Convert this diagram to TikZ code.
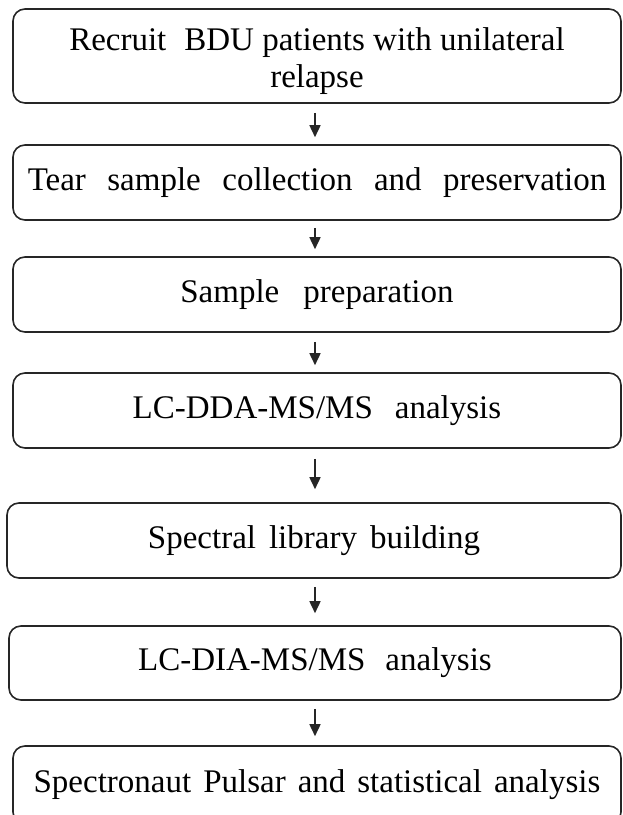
\documentclass[tikz,border=0pt]{standalone}
\usepackage{fontspec}
\setmainfont{Liberation Serif}
\usetikzlibrary{arrows.meta}
% wider word spacing, as in the step labels
\newcommand{\wsp}[1]{\spaceskip=#1\relax}
\tikzset{
  stepbox/.style={draw=black!85, line width=1.6pt, rounded corners=12pt,
    inner sep=0pt, align=center, font=\fontsize{33}{37}\selectfont},
  flowarrow/.style={draw=black!85, line width=1.6pt,
    -{Triangle[length=12pt,width=11pt]}}
}
\begin{document}
\begin{tikzpicture}[x=1pt,y=-1pt]
  \useasboundingbox (0,0) rectangle (623,815);
  \clip (0,0) rectangle (623,815);
  \node[stepbox, minimum width=608, minimum height=94] (b1) at (317,56)
    {\rule{0pt}{33pt}Recruit\hspace{18pt}BDU patients with unilateral\\relapse};
  \node[stepbox, minimum width=608, minimum height=75] (b2) at (317,182.5)
    {\wsp{21.5pt}Tear sample collection and preservation};
  \node[stepbox, minimum width=608, minimum height=75] (b3) at (317,294.5)
    {\wsp{24pt}Sample preparation};
  \node[stepbox, minimum width=608, minimum height=75] (b4) at (317,410.5)
    {LC-DDA-MS/MS\hspace{22pt}analysis};
  \node[stepbox, minimum width=614, minimum height=75] (b5) at (314,540.5)
    {\wsp{13pt}Spectral library building};
  \node[stepbox, minimum width=612, minimum height=74] (b6) at (315,663)
    {LC-DIA-MS/MS\hspace{20pt}analysis};
  \node[stepbox, minimum width=608, minimum height=78] (b7) at (317,785)
    {\wsp{12pt}Spectronaut Pulsar and statistical analysis};
  \draw[flowarrow] ([xshift=-2pt,yshift=-9pt]b1.south) -- ([xshift=-2pt,yshift=7pt]b2.north);
  \draw[flowarrow] ([xshift=-2pt,yshift=-7pt]b2.south) -- ([xshift=-2pt,yshift=7pt]b3.north);
  \draw[flowarrow] ([xshift=-2pt,yshift=-9pt]b3.south) -- ([xshift=-2pt,yshift=7pt]b4.north);
  \draw[flowarrow] ([xshift=-2pt,yshift=-10pt]b4.south) -- ([xshift=1pt,yshift=13pt]b5.north);
  \draw[flowarrow] ([xshift=1pt,yshift=-8pt]b5.south) -- ([xshift=0pt,yshift=12pt]b6.north);
  \draw[flowarrow] ([xshift=0pt,yshift=-8pt]b6.south) -- ([xshift=-2pt,yshift=9pt]b7.north);
\end{tikzpicture}
\end{document}
